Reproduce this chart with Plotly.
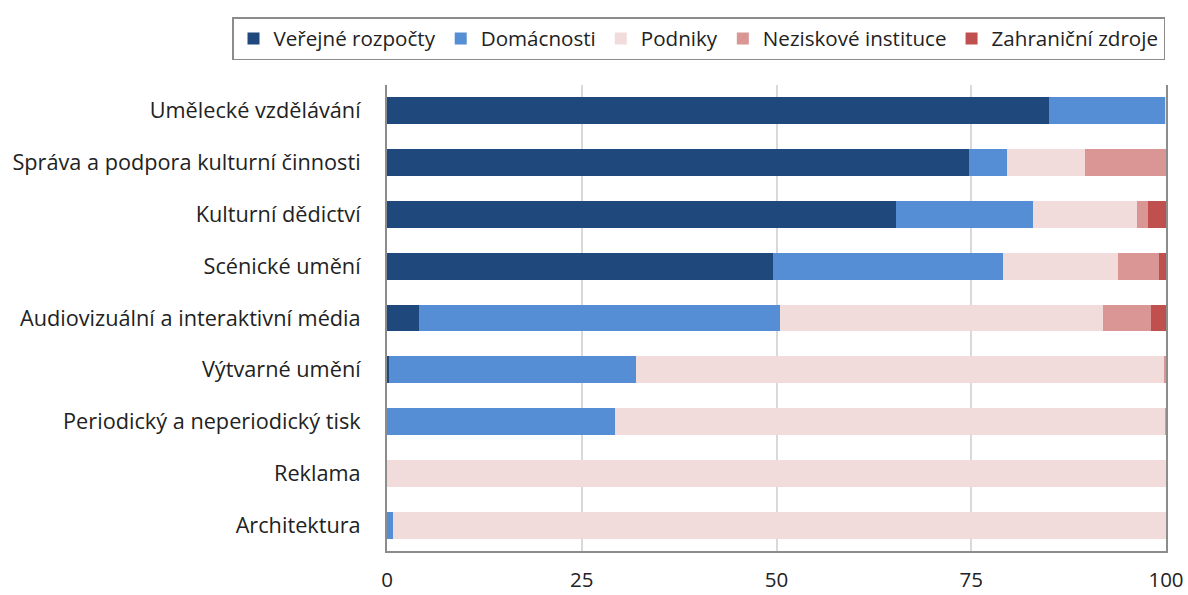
import plotly.graph_objects as go

categories = ["Umělecké vzdělávání", "Správa a podpora kulturní činnosti", "Kulturní dědictví",
              "Scénické umění", "Audiovizuální a interaktivní média", "Výtvarné umění",
              "Periodický a neperiodický tisk", "Reklama", "Architektura"]
series_names = ["Veřejné rozpočty", "Domácnosti", "Podniky", "Neziskové instituce", "Zahraniční zdroje"]
verejne = [85.0, 74.7, 65.3, 49.5, 4.1, 0.3, 0.0, 0.0, 0.0]
domacnosti = [14.9, 4.9, 17.6, 29.6, 46.3, 31.7, 29.3, 0.0, 0.8]
podniky = [0.1, 10.0, 13.4, 14.8, 41.5, 67.8, 70.6, 100.0, 99.2]
neziskove = [0.0, 10.4, 1.4, 5.2, 6.2, 0.2, 0.1, 0.0, 0.0]
zahranicni = [0.0, 0.0, 2.3, 0.9, 1.9, 0.0, 0.0, 0.0, 0.0]
colors = ["#1F497D", "#558ED5", "#F2DCDB", "#D99694", "#C0504D"]
tick_vals = [0, 25, 50, 75, 100]

FONT = "Open Sans"
W, H = 1188, 595
L, R, T, B = 387, 22, 85, 44
fig = go.Figure()
for name, vals, col in zip(series_names, [verejne, domacnosti, podniky, neziskove, zahranicni], colors):
    fig.add_trace(go.Bar(y=categories, x=vals, name=name, orientation="h",
                         marker=dict(color=col, line=dict(width=0))))

pw = W - L - R
ph = H - T - B
fig.update_layout(
    barmode="stack", bargap=0.48,
    width=W, height=H,
    margin=dict(l=L, r=R, t=T, b=B, autoexpand=False),
    paper_bgcolor="white", plot_bgcolor="white",
    font=dict(family=FONT, size=21.7, color="#222222"),
    legend=dict(orientation="h", x=-155 / pw, xanchor="left", y=1 + 68 / ph, yanchor="top",
                bordercolor="#8c8c8c", borderwidth=1.5, font=dict(size=20.6, family=FONT),
                itemwidth=30, traceorder="normal", tracegroupgap=0),
    showlegend=True,
)
fig.update_xaxes(range=[0, 100], tickvals=tick_vals, ticktext=[str(v) for v in tick_vals],
                 showgrid=True, gridcolor="#d9d9d9", gridwidth=1.5, zeroline=False,
                 showline=True, linecolor="#8c8c8c", linewidth=2,
                 ticks="", tickfont=dict(size=20.5, family=FONT), ticklabelstandoff=9)
fig.update_yaxes(categoryorder="array", categoryarray=categories, autorange="reversed",
                 showline=True, mirror=True, linecolor="#8c8c8c", linewidth=2, ticks="", showgrid=False,
                 tickfont=dict(size=21.7, family=FONT), ticklabelstandoff=20)
fig.write_html("out.html", config={"displayModeBar": False},
               post_script="document.body.style.margin='0';document.body.style.overflow='hidden';"
                           "document.documentElement.style.overflow='hidden';")
